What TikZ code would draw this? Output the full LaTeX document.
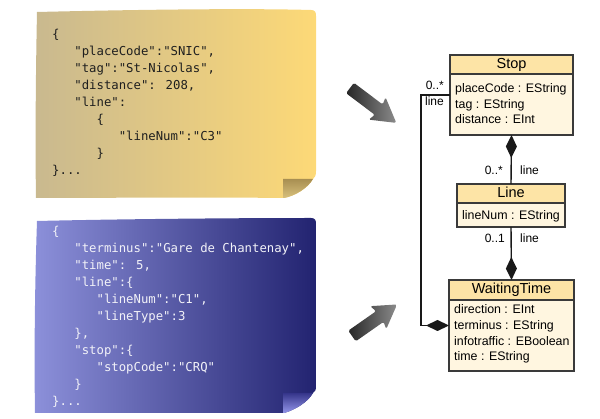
\documentclass[tikz,border=0pt]{standalone}
\usepackage{fontspec}
\setmainfont{Liberation Sans}
\newfontfamily\jsonfont{DejaVu Sans Mono}
\usetikzlibrary{arrows.meta}
\definecolor{tanL}{HTML}{C9B98F}
\definecolor{tanR}{HTML}{FDD977}
\definecolor{tanFlapT}{HTML}{A88F52}
\definecolor{tanFlapB}{HTML}{D8C07C}
\definecolor{blueL}{HTML}{8C90DA}
\definecolor{blueR}{HTML}{222370}
\definecolor{blueFlapT}{HTML}{35358A}
\definecolor{blueFlapB}{HTML}{9496EA}
\definecolor{hdr}{HTML}{FDE4A6}
\definecolor{bdy}{HTML}{FFF6E0}
\definecolor{edge}{HTML}{3A3A3A}
\definecolor{jsonW}{HTML}{F2F2F8}
\begin{document}
\begin{tikzpicture}[x=1pt,y=-1pt,
  json/.style={anchor=base west, inner sep=0pt, text=black!88, font=\jsonfont\fontsize{12.3}{14}\selectfont},
  jsonw/.style={json, text=jsonW},
  box/.style={fill=bdy, inner sep=0pt, outer sep=0pt},
  boxline/.style={draw=edge, line width=1.3pt},
  ttl/.style={anchor=base, inner sep=0pt, font=\fontsize{14.5}{16}\selectfont},
  attr/.style={anchor=base west, inner sep=0pt, font=\fontsize{12.4}{14}\selectfont},
  lbl/.style={inner sep=0pt, font=\fontsize{12}{14}\selectfont},
  conn/.style={draw=black!90, line width=1.4pt},
  bigarrow/.style={left color=black!85, right color=black!45, rounded corners=1.5pt}
]
\useasboundingbox (0,0) rectangle (600,419);

% ---------- top note ----------
\shade[left color=tanL, right color=tanR]
  (37,12) .. controls (120,10) and (240,8) .. (311,10)
  .. controls (315,10) and (316,12) .. (316,16) -- (316,171)
  .. controls (316,175) and (315,178) .. (313,179)
  .. controls (308,188) and (295,196) .. (284,198)
  .. controls (200,197) and (100,198) .. (36,198)
  .. controls (35,140) and (36,60) .. cycle;
\shade[top color=tanFlapT, bottom color=tanFlapB]
  (283,179) -- (313,179) .. controls (308,188) and (295,196) .. (284,198) -- (283,198) -- cycle;

\node[json] (a1) at (52,39) {\{};
\node[json] (a2) at (74.2,56) {"placeCode":"SNIC",};
\node[json] (a3) at (74.2,73) {"tag":"St-Nicolas",};
\node[json] (a4) at (74.2,90) {"distance": 208,};
\node[json] (a5) at (74.2,107) {"line":};
\node[json] (a6) at (96.4,124) {\{};
\node[json] (a7) at (118.6,141) {"lineNum":"C3"};
\node[json] (a8) at (96.4,158) {\}};
\node[json] (a9) at (52,175) {\}...};

% ---------- bottom note ----------
\shade[left color=blueL, right color=blueR]
  (37,221) .. controls (120,219) and (240,218) .. (311,218)
  .. controls (315,218) and (316,220) .. (316,224) -- (316,386)
  .. controls (316,390) and (315,392) .. (313,393)
  .. controls (308,402) and (295,410) .. (284,413)
  .. controls (200,413) and (100,413) .. (35,413)
  .. controls (34,350) and (35,280) .. cycle;
\shade[top color=blueFlapT, bottom color=blueFlapB]
  (283,393) -- (313,393) .. controls (308,402) and (295,410) .. (284,413) -- (283,413) -- cycle;

\node[jsonw] (b1) at (52,236) {\{};
\node[jsonw] (b2) at (74.2,253) {"terminus":"Gare de Chantenay",};
\node[jsonw] (b3) at (74.2,270) {"time": 5,};
\node[jsonw] (b4) at (74.2,287) {"line":\{};
\node[jsonw] (b5) at (96.4,304) {"lineNum":"C1",};
\node[jsonw] (b6) at (96.4,321) {"lineType":3};
\node[jsonw] (b7) at (74.2,338) {\},};
\node[jsonw] (b8) at (74.2,355) {"stop":\{};
\node[jsonw] (b9) at (96.4,372) {"stopCode":"CRQ"};
\node[jsonw] (b10) at (74.2,389) {\}};
\node[jsonw] (b11) at (52,406) {\}...};

% ---------- block arrows ----------
\begin{scope}[shift={(350,88)}, rotate=-37]
  \shade[bigarrow] (0,-6.5) -- (36,-6.5) -- (34,-14) -- (58,0) -- (34,14) -- (36,6.5) -- (0,6.5) -- cycle;
\end{scope}
\begin{scope}[shift={(352,336)}, rotate=35]
  \shade[bigarrow] (0,-6.5) -- (34,-6.5) -- (32,-14) -- (55,0) -- (32,14) -- (34,6.5) -- (0,6.5) -- cycle;
\end{scope}

% ---------- classes ----------
\node[box, minimum width=123pt, minimum height=80pt] (stop) at (511.5,95) {};
\fill[hdr] (stop.north west) rectangle ([yshift=-19pt]stop.north east);
\draw[boxline] ([yshift=-19pt]stop.north west) -- ([yshift=-19pt]stop.north east);
\draw[boxline] (stop.north west) rectangle (stop.south east);
\node[ttl] (stopT) at (511.5,69) {Stop};
\node[attr] (stop1) at (455,93) {placeCode : EString};
\node[attr] (stop2) at (455,108.5) {tag : EString};
\node[attr] (stop3) at (455,124) {distance : EInt};

\node[box, minimum width=108pt, minimum height=43pt] (line) at (511,205.5) {};
\fill[hdr] (line.north west) rectangle ([yshift=-19pt]line.north east);
\draw[boxline] ([yshift=-19pt]line.north west) -- ([yshift=-19pt]line.north east);
\draw[boxline] (line.north west) rectangle (line.south east);
\node[ttl] (lineT) at (511,198) {Line};
\node[attr] (line1) at (462,220) {lineNum : EString};

\node[box, minimum width=125pt, minimum height=91pt] (wt) at (511.5,325.5) {};
\fill[hdr] (wt.north west) rectangle ([yshift=-20pt]wt.north east);
\draw[boxline] ([yshift=-20pt]wt.north west) -- ([yshift=-20pt]wt.north east);
\draw[boxline] (wt.north west) rectangle (wt.south east);
\node[ttl] (wtT) at (511.5,294) {WaitingTime};
\node[attr] (wt1) at (454,314) {direction : EInt};
\node[attr] (wt2) at (454,330) {terminus : EString};
\node[attr] (wt3) at (454,345.5) {infotraffic : EBoolean};
\node[attr] (wt4) at (454,361) {time : EString};

% ---------- connectors ----------
\draw[conn, {Diamond[length=23pt,width=11pt]}-] (stop.south) -- (line.north);
\draw[conn, -{Diamond[length=23pt,width=11pt]}] (line.south) -- (wt.north);
\draw[conn, {Diamond[length=23pt,width=11pt]}-] (wt.west) -- ++(-28,0) |- (stop.west);

\node[lbl, anchor=base east] (l1) at (444,90) {0..*};
\node[lbl, anchor=base east] (l2) at (444,106) {line};
\node[lbl, anchor=base east] (l3) at (503,175) {0..*};
\node[lbl, anchor=base west] (l4) at (520,175) {line};
\node[lbl, anchor=base east] (l5) at (505,243) {0..1};
\node[lbl, anchor=base west] (l6) at (520,243) {line};
\end{tikzpicture}
\end{document}
